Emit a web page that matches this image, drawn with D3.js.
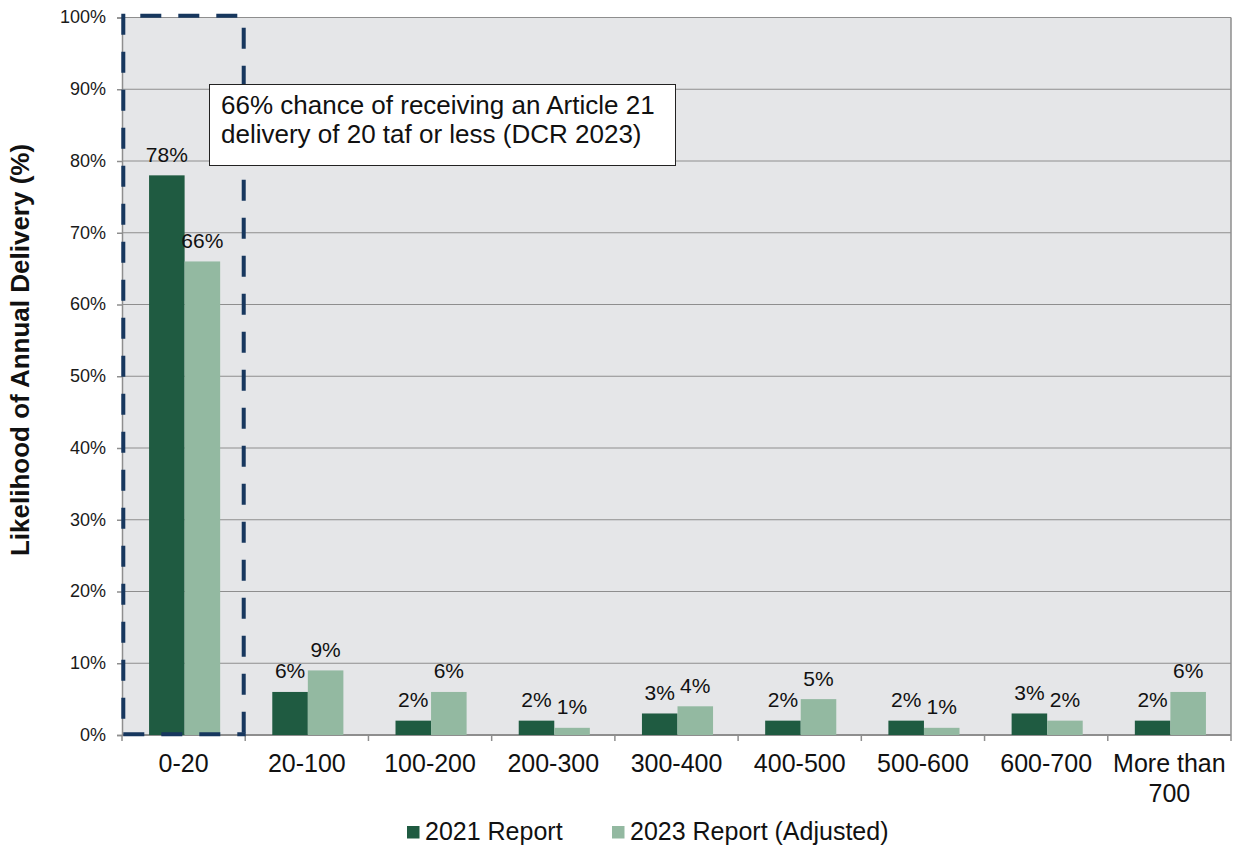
<!DOCTYPE html>
<html>
<head>
<meta charset="utf-8">
<script src="https://cdn.jsdelivr.net/npm/d3@7"></script>
<style>
  html, body { margin: 0; padding: 0; background: #fff; }
  svg { display: block; font-family: "Liberation Sans", Arial, sans-serif; }
</style>
</head>
<body>
<svg id="chart" width="1237" height="856"></svg>
<script>
const categories = ["0-20", "20-100", "100-200", "200-300", "300-400", "400-500", "500-600", "600-700", "More than 700"];
const categoryLines = [["0-20"], ["20-100"], ["100-200"], ["200-300"], ["300-400"], ["400-500"], ["500-600"], ["600-700"], ["More than", "700"]];
const seriesNames = ["2021 Report", "2023 Report (Adjusted)"];
const values2021 = [78, 6, 2, 2, 3, 2, 2, 3, 2];
const values2023 = [66, 9, 6, 1, 4, 5, 1, 2, 6];
const yTicks = [0, 10, 20, 30, 40, 50, 60, 70, 80, 90, 100];
const yTitle = "Likelihood of Annual Delivery (%)";
const annotationLines = ["66% chance of receiving an Article 21", "delivery of 20 taf or less (DCR 2023)"];

const colors = ["#1f5b41", "#93b9a1"];
const svg = d3.select("#chart");
const L = 122, R = 1231, T = 17.5, B = 735;

const x0 = d3.scaleBand().domain(categories).range([L, R]).padding(0);
const y = d3.scaleLinear().domain([0, 100]).range([B, T]);
const groupW = x0.bandwidth() * 0.577;
const x1 = d3.scaleBand().domain(seriesNames).range([0, groupW]).padding(0);
const groupOff = (x0.bandwidth() - groupW) / 2 + 1;

// plot background
svg.append("rect").attr("x", L).attr("y", T).attr("width", R - L).attr("height", B - T).attr("fill", "#e5e6e8");

// gridlines
svg.append("g").selectAll("line").data(yTicks.filter(d => d > 0)).join("line")
  .attr("x1", L).attr("x2", R).attr("y1", d => y(d)).attr("y2", d => y(d))
  .attr("stroke", "#8e8e8e").attr("stroke-width", 1);

// right border
svg.append("line").attr("x1", R).attr("x2", R).attr("y1", T).attr("y2", B).attr("stroke", "#8e8e8e").attr("stroke-width", 1.5);

// y axis
const yAxis = d3.axisLeft(y).tickValues(yTicks).tickFormat(d => d + "%").tickSize(5).tickPadding(11);
const gy = svg.append("g").attr("transform", `translate(${L},0)`).call(yAxis);
gy.select(".domain").attr("stroke", "#8e8e8e").attr("stroke-width", 1.5);
gy.selectAll(".tick line").attr("stroke", "#8e8e8e").attr("stroke-width", 1.5);
gy.selectAll(".tick text").attr("font-size", 18).attr("fill", "#1a1a1a").attr("font-family", "Liberation Sans, Arial, sans-serif").attr("dy", "0.3em");

// x axis
const gx = svg.append("g").attr("transform", `translate(0,${B})`);
gx.append("line").attr("x1", L).attr("x2", R).attr("y1", 0).attr("y2", 0).attr("stroke", "#8e8e8e").attr("stroke-width", 2);
const boundaries = categories.map(c => x0(c)).concat([R]);
gx.selectAll("line.tk").data(boundaries).join("line").attr("class", "tk")
  .attr("x1", d => d).attr("x2", d => d).attr("y1", 0).attr("y2", 6)
  .attr("stroke", "#8e8e8e").attr("stroke-width", 1.5);
const xl = gx.selectAll("text.cat").data(categories).join("text").attr("class", "cat")
  .attr("text-anchor", "middle").attr("font-size", 25).attr("fill", "#111")
  .attr("transform", d => `translate(${x0(d) + x0.bandwidth() / 2},37)`);
xl.each(function(d, i) {
  d3.select(this).selectAll("tspan").data(categoryLines[i]).join("tspan")
    .attr("x", 0).attr("y", (t, j) => j * 30).text(t => t);
});

// bars
const seriesData = [values2021, values2023];
const groups = svg.append("g").selectAll("g").data(categories).join("g")
  .attr("transform", d => `translate(${x0(d) + groupOff},0)`);
groups.selectAll("rect").data((c, i) => seriesNames.map((s, k) => ({ s, v: seriesData[k][i], k }))).join("rect")
  .attr("x", d => x1(d.s)).attr("width", x1.bandwidth())
  .attr("y", d => y(d.v)).attr("height", d => B - y(d.v))
  .attr("fill", d => colors[d.k]);
groups.selectAll("text").data((c, i) => seriesNames.map((s, k) => ({ s, v: seriesData[k][i], k }))).join("text")
  .attr("x", d => x1(d.s) + x1.bandwidth() / 2).attr("y", d => y(d.v) - 13.5)
  .attr("text-anchor", "middle").attr("font-size", 21).attr("fill", "#111")
  .text(d => d.v + "%");

// dashed highlight box around first category
const dashColor = "#17375e";
const bx0 = L + 1.3, bx1 = x0(categories[1]) - 1.5, by0 = 15.7, by1 = B - 0.7;
const dashed = svg.append("g").attr("stroke", dashColor).attr("stroke-width", 4).attr("fill", "none").attr("stroke-dasharray", "21,17");
dashed.append("line").attr("x1", bx0).attr("x2", bx1).attr("y1", by0).attr("y2", by0).attr("stroke-dashoffset", 21);
dashed.append("line").attr("x1", bx0).attr("x2", bx0).attr("y1", by0 - 2).attr("y2", by1);
dashed.append("line").attr("x1", bx1).attr("x2", bx1).attr("y1", by0).attr("y2", by1).attr("stroke-dashoffset", 26);
dashed.append("line").attr("x1", bx0).attr("x2", bx1 + 2).attr("y1", by1).attr("y2", by1);

// annotation box
svg.append("rect").attr("x", 209.5).attr("y", 84.5).attr("width", 466).attr("height", 81)
  .attr("fill", "#fff").attr("stroke", "#222").attr("stroke-width", 1);
svg.append("g").selectAll("text").data(annotationLines).join("text")
  .attr("x", 221).attr("y", (d, i) => 114 + i * 28.7)
  .attr("font-size", 26).attr("fill", "#111").text(d => d);

// y title
svg.append("text").attr("transform", "translate(29,350) rotate(-90)")
  .attr("text-anchor", "middle").attr("font-size", 26).attr("font-weight", "bold").attr("fill", "#111")
  .text(yTitle);

// legend
const legendX = [407, 612];
const lg = svg.append("g").selectAll("g").data(seriesNames).join("g")
  .attr("transform", (d, i) => `translate(${legendX[i]},826)`);
lg.append("rect").attr("width", 12.5).attr("height", 12.5).attr("fill", (d, i) => colors[i]);
lg.append("text").attr("x", 18).attr("y", 14).attr("font-size", 25).attr("fill", "#111").text(d => d);
</script>
</body>
</html>
